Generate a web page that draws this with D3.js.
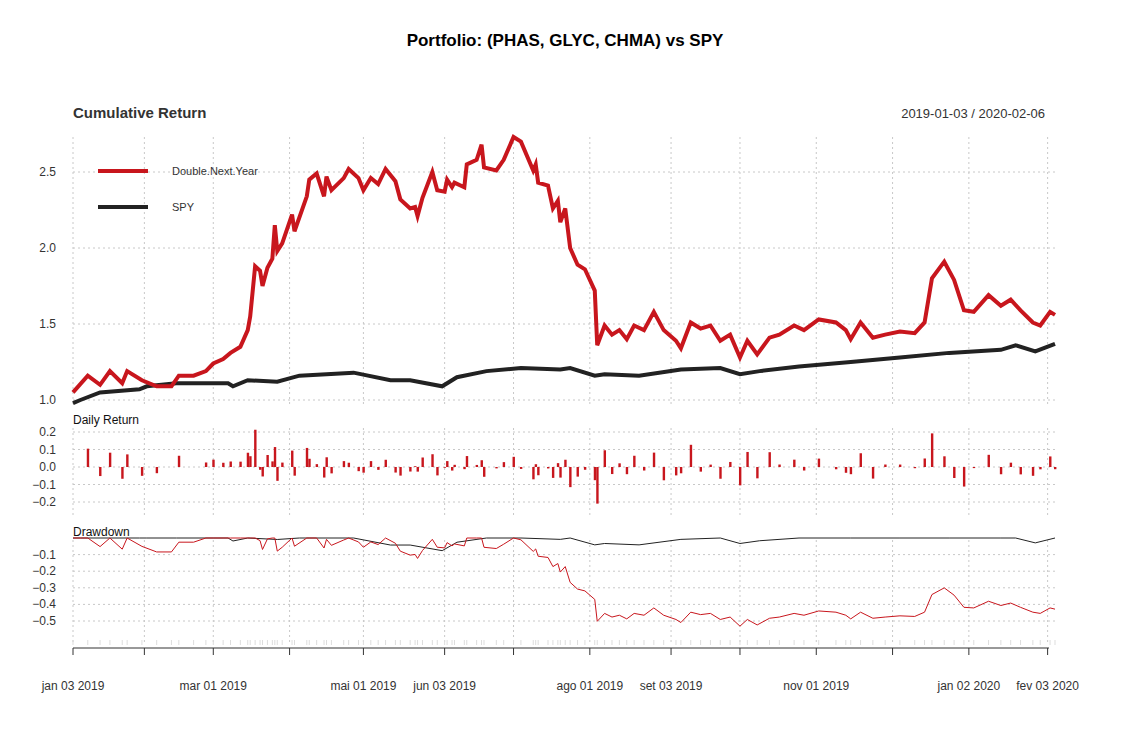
<!DOCTYPE html><html><head><meta charset="utf-8">
<script src="https://cdn.jsdelivr.net/npm/d3@7"></script>
<style>body{margin:0;background:#fff}text{font-family:"Liberation Sans",Arial,sans-serif}</style></head><body>
<svg id="c" width="1128" height="735"></svg>
<script>
// calendar days since 2019-01-03
const redDays=[0,6,11,15,20,22,28,34,40,43,49,54,57,61,64,68,71,72,74,76,77,79,81,82,83,85,89,90,95,96,99,102,103,105,110,112,116,118,121,124,127,131,133,137,139,140,142,146,148,151,152,154,155,159,160,164,166,167,172,175,179,182,187,188,189,193,195,197,198,200,202,205,208,212,213,216,219,222,225,228,232,236,240,245,247,251,255,259,263,267,271,274,278,283,287,293,297,303,310,314,316,320,325,330,336,342,346,349,354,358,362,366,372,377,381,385,390,393,397,399];
const redVals=[1.05,1.16,1.10,1.19,1.11,1.19,1.13,1.09,1.09,1.16,1.16,1.19,1.24,1.27,1.31,1.35,1.46,1.55,1.88,1.85,1.75,1.87,1.93,2.15,1.98,2.03,2.22,2.11,2.34,2.45,2.49,2.34,2.47,2.38,2.46,2.52,2.46,2.38,2.46,2.42,2.52,2.44,2.32,2.26,2.27,2.21,2.33,2.50,2.38,2.37,2.45,2.40,2.43,2.40,2.55,2.58,2.68,2.53,2.51,2.58,2.73,2.70,2.51,2.55,2.43,2.41,2.26,2.31,2.17,2.26,2.00,1.89,1.86,1.72,1.36,1.49,1.43,1.46,1.40,1.49,1.46,1.58,1.46,1.39,1.34,1.51,1.47,1.49,1.39,1.43,1.28,1.39,1.30,1.41,1.43,1.49,1.46,1.53,1.51,1.46,1.40,1.51,1.41,1.43,1.45,1.44,1.51,1.80,1.91,1.79,1.59,1.58,1.69,1.62,1.66,1.59,1.51,1.49,1.58,1.56];
const spyDays=[0,3,11,27,30,42,63,65,71,83,92,114,129,137,150,156,168,182,198,202,212,216,230,247,263,271,279,295,316,336,356,377,383,391,399];
const spyVals=[0.98,1.00,1.05,1.07,1.09,1.11,1.11,1.09,1.13,1.12,1.16,1.18,1.13,1.13,1.09,1.15,1.19,1.21,1.20,1.21,1.16,1.17,1.16,1.20,1.21,1.17,1.19,1.22,1.25,1.28,1.31,1.33,1.36,1.32,1.37];
const gridDates=["2019-01-03","2019-02-01","2019-03-01","2019-04-01","2019-05-01","2019-06-03","2019-07-01","2019-08-01","2019-09-03","2019-10-01","2019-11-01","2019-12-02","2020-01-02","2020-02-03"];
const labelDates={"2019-01-03":"jan 03 2019","2019-03-01":"mar 01 2019","2019-05-01":"mai 01 2019","2019-06-03":"jun 03 2019","2019-08-01":"ago 01 2019","2019-09-03":"set 03 2019","2019-11-01":"nov 01 2019","2020-01-02":"jan 02 2020","2020-02-03":"fev 03 2020"};
const cumTicks=[1.0,1.5,2.0,2.5], drTicks=[-0.2,-0.1,0,0.1,0.2], ddTicks=[-0.1,-0.2,-0.3,-0.4,-0.5];

const svg=d3.select("#c"), p=d3.timeParse("%Y-%m-%d"), start=p("2019-01-03");
const dt=d=>d3.timeDay.offset(start,d);
const x=d3.scaleTime().domain([start,p("2020-02-06")]).range([73,1055]);
const y1=d3.scaleLinear().domain([1,2.5]).range([400,172]);
const y2=d3.scaleLinear().domain([0,0.2]).range([467,432]);
const y3=d3.scaleLinear().domain([0,-0.5]).range([538,621]);
const red=redDays.map((d,i)=>({t:dt(d),v:redVals[i]})), spy=spyDays.map((d,i)=>({t:dt(d),v:spyVals[i]}));
const rets=red.slice(1).map((d,i)=>({t:d.t,v:d.v/red[i].v-1}));
const dd=s=>{let m=-Infinity;return s.map(d=>{m=Math.max(m,d.v);return{t:d.t,v:d.v/m-1};});};
const grid="#c8c8c8";
function panel(top,bot,yscale,ticks,fmt){
  gridDates.forEach(g=>svg.append("line").attr("x1",x(p(g))).attr("x2",x(p(g))).attr("y1",top).attr("y2",bot).attr("stroke",grid).attr("stroke-dasharray","2,3"));
  ticks.forEach(t=>{svg.append("line").attr("x1",73).attr("x2",1055).attr("y1",yscale(t)).attr("y2",yscale(t)).attr("stroke",grid).attr("stroke-dasharray","2,3");
    svg.append("text").attr("x",56).attr("y",yscale(t)+4).attr("text-anchor","end").attr("font-size",12).attr("fill","#333").text(fmt(t));});
}
panel(137,405,y1,cumTicks,d3.format(".1f"));
panel(428,515,y2,drTicks,d3.format(".1f"));
panel(540,645,y3,ddTicks,d3.format(".1f"));
const ln=ys=>d3.line().x(d=>x(d.t)).y(d=>ys(d.v));
svg.append("path").datum(spy).attr("d",ln(y1)).attr("fill","none").attr("stroke","#222").attr("stroke-width",4);
svg.append("path").datum(red).attr("d",ln(y1)).attr("fill","none").attr("stroke","#c8161d").attr("stroke-width",4);
svg.selectAll(".b").data(rets).join("rect").attr("x",d=>x(d.t)-1).attr("width",2.4)
 .attr("y",d=>Math.min(y2(d.v),y2(0))).attr("height",d=>Math.abs(y2(d.v)-y2(0))).attr("fill","#c8161d");
svg.append("path").datum(dd(spy)).attr("d",ln(y3)).attr("fill","none").attr("stroke","#222").attr("stroke-width",1);
svg.append("path").datum(dd(red)).attr("d",ln(y3)).attr("fill","none").attr("stroke","#c8161d").attr("stroke-width",1);
// x axis
svg.append("line").attr("x1",73).attr("x2",1049).attr("y1",648).attr("y2",648).attr("stroke","#333");
gridDates.forEach(g=>svg.append("line").attr("x1",x(p(g))).attr("x2",x(p(g))).attr("y1",648).attr("y2",655).attr("stroke","#333"));
red.forEach(d=>svg.append("line").attr("x1",x(d.t)).attr("x2",x(d.t)).attr("y1",640).attr("y2",645).attr("stroke","#ddd"));
Object.entries(labelDates).forEach(([k,l])=>svg.append("text").attr("x",x(p(k))).attr("y",690).attr("text-anchor","middle").attr("font-size",12).attr("fill","#333").text(l));
// titles
svg.append("text").attr("x",565).attr("y",46).attr("text-anchor","middle").attr("font-size",17).attr("font-weight","bold").text("Portfolio: (PHAS, GLYC, CHMA) vs SPY");
svg.append("text").attr("x",73).attr("y",118).attr("font-size",15).attr("font-weight","bold").attr("fill","#333").text("Cumulative Return");
svg.append("text").attr("x",1045).attr("y",118).attr("text-anchor","end").attr("font-size",13).attr("fill","#333").text("2019-01-03 / 2020-02-06");
svg.append("text").attr("x",73).attr("y",424).attr("font-size",12).attr("fill","#111").text("Daily Return");
svg.append("text").attr("x",73).attr("y",536).attr("font-size",12).attr("fill","#111").text("Drawdown");
[["Double.Next.Year","#c8161d",171],["SPY","#222",207]].forEach(([n,c,yy])=>{
 svg.append("line").attr("x1",98).attr("x2",148).attr("y1",yy).attr("y2",yy).attr("stroke",c).attr("stroke-width",4);
 svg.append("text").attr("x",172).attr("y",yy+4).attr("font-size",11).attr("fill","#333").text(n);});
</script></body></html>
